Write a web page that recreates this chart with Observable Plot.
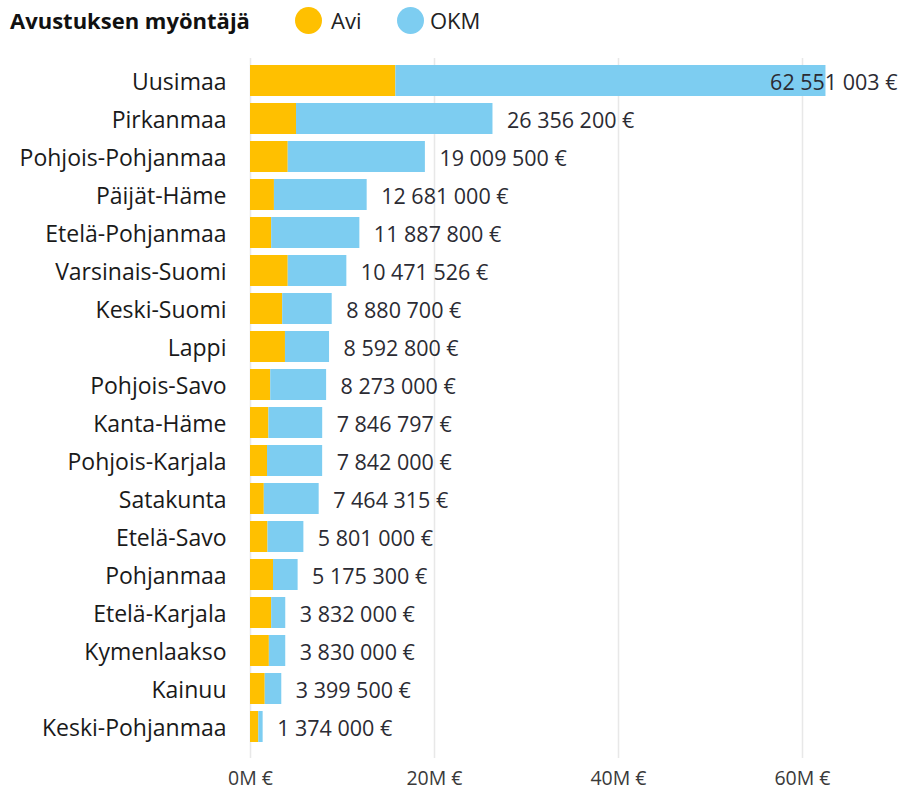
<!DOCTYPE html>
<html>
<head>
<meta charset="utf-8">
<script src="https://cdn.jsdelivr.net/npm/d3@7"></script>
<script src="https://cdn.jsdelivr.net/npm/@observablehq/plot@0.6"></script>
<style>
  html, body { margin: 0; padding: 0; background: #fff; }
  body { width: 904px; height: 791px; overflow: hidden; font-family: "Open Sans", sans-serif; }
  #legend { position: relative; height: 46px; }
  #legend .title { position: absolute; left: 10px; top: 5px; font-weight: bold; font-size: 22px; color: #111; }
  #legend .sw { position: absolute; top: 7px; width: 27px; height: 27px; border-radius: 50%; }
  #legend .lab { position: absolute; top: 5px; font-size: 22px; color: #222; }
</style>
</head>
<body>
<div id="legend"></div>
<div id="chart"></div>
<script>
const regions = ["Uusimaa","Pirkanmaa","Pohjois-Pohjanmaa","Päijät-Häme","Etelä-Pohjanmaa","Varsinais-Suomi","Keski-Suomi","Lappi","Pohjois-Savo","Kanta-Häme","Pohjois-Karjala","Satakunta","Etelä-Savo","Pohjanmaa","Etelä-Karjala","Kymenlaakso","Kainuu","Keski-Pohjanmaa"];
const totals = [62551003,26356200,19009500,12681000,11887800,10471526,8880700,8592800,8273000,7846797,7842000,7464315,5801000,5175300,3832000,3830000,3399500,1374000];
const avi = [15800000,5000000,4100000,2600000,2300000,4100000,3500000,3800000,2200000,2000000,1850000,1500000,1900000,2500000,2300000,2050000,1600000,900000];
const series = ["Avi","OKM"];
const colors = ["#FFC000","#7DCDF1"];
const xTicks = [0,20e6,40e6,60e6];

const rows = [];
regions.forEach((r,i) => {
  rows.push({region:r, series:"Avi", value:avi[i]});
  rows.push({region:r, series:"OKM", value:totals[i]-avi[i]});
});
const totalRows = regions.map((r,i) => ({region:r, total:totals[i]}));
const fmt = v => d3.format(",")(v).replace(/,/g," ") + " €";

// legend
const lg = document.getElementById("legend");
lg.innerHTML = `<span class="title">Avustuksen myöntäjä</span>
<span class="sw" style="left:295px;background:${colors[0]}"></span><span class="lab" style="left:331px">${series[0]}</span>
<span class="sw" style="left:397px;background:${colors[1]}"></span><span class="lab" style="left:430px">${series[1]}</span>`;

const chart = Plot.plot({
  width: 904,
  height: 745,
  marginLeft: 250,
  marginRight: 10,
  marginTop: 16,
  marginBottom: 45,
  style: {fontFamily: "Open Sans, sans-serif", background: "#fff", overflow: "visible"},
  x: {domain: [0, 70e6], axis: null},
  y: {domain: regions, axis: null, paddingInner: 0.18, paddingOuter: 0.09},
  color: {domain: series, range: colors},
  marks: [
    Plot.ruleX(xTicks, {x: d => d, stroke: "#e8e8e8", strokeWidth: 1.5, insetTop: -4, insetBottom: -12}),
    Plot.barX(rows, Plot.stackX({y: "region", x: "value", fill: "series", order: series})),
    Plot.text(regions, {y: d => d, frameAnchor: "left", textAnchor: "end", dx: -24, dy: 2, text: d => d, fontSize: 23, fill: "#1a1a1a"}),
    Plot.text(totalRows.filter(d => d.total < 50e6), {y: "region", x: "total", textAnchor: "start", dx: 14, dy: 2, text: d => fmt(d.total), fontSize: 21.5, fill: "#2b2b33"}),
    Plot.text(totalRows.filter(d => d.total >= 50e6), {y: "region", frameAnchor: "right", textAnchor: "end", dx: 3, dy: 2, text: d => fmt(d.total), fontSize: 21.5, fill: "#2b2b33"}),
    Plot.axisX({ticks: xTicks, tickSize: 0, tickPadding: 25, tickFormat: d => (d/1e6) + "M €", fontSize: 19.5, color: "#3a3a3a"})
  ]
});
document.getElementById("chart").appendChild(chart);
</script>
</body>
</html>
